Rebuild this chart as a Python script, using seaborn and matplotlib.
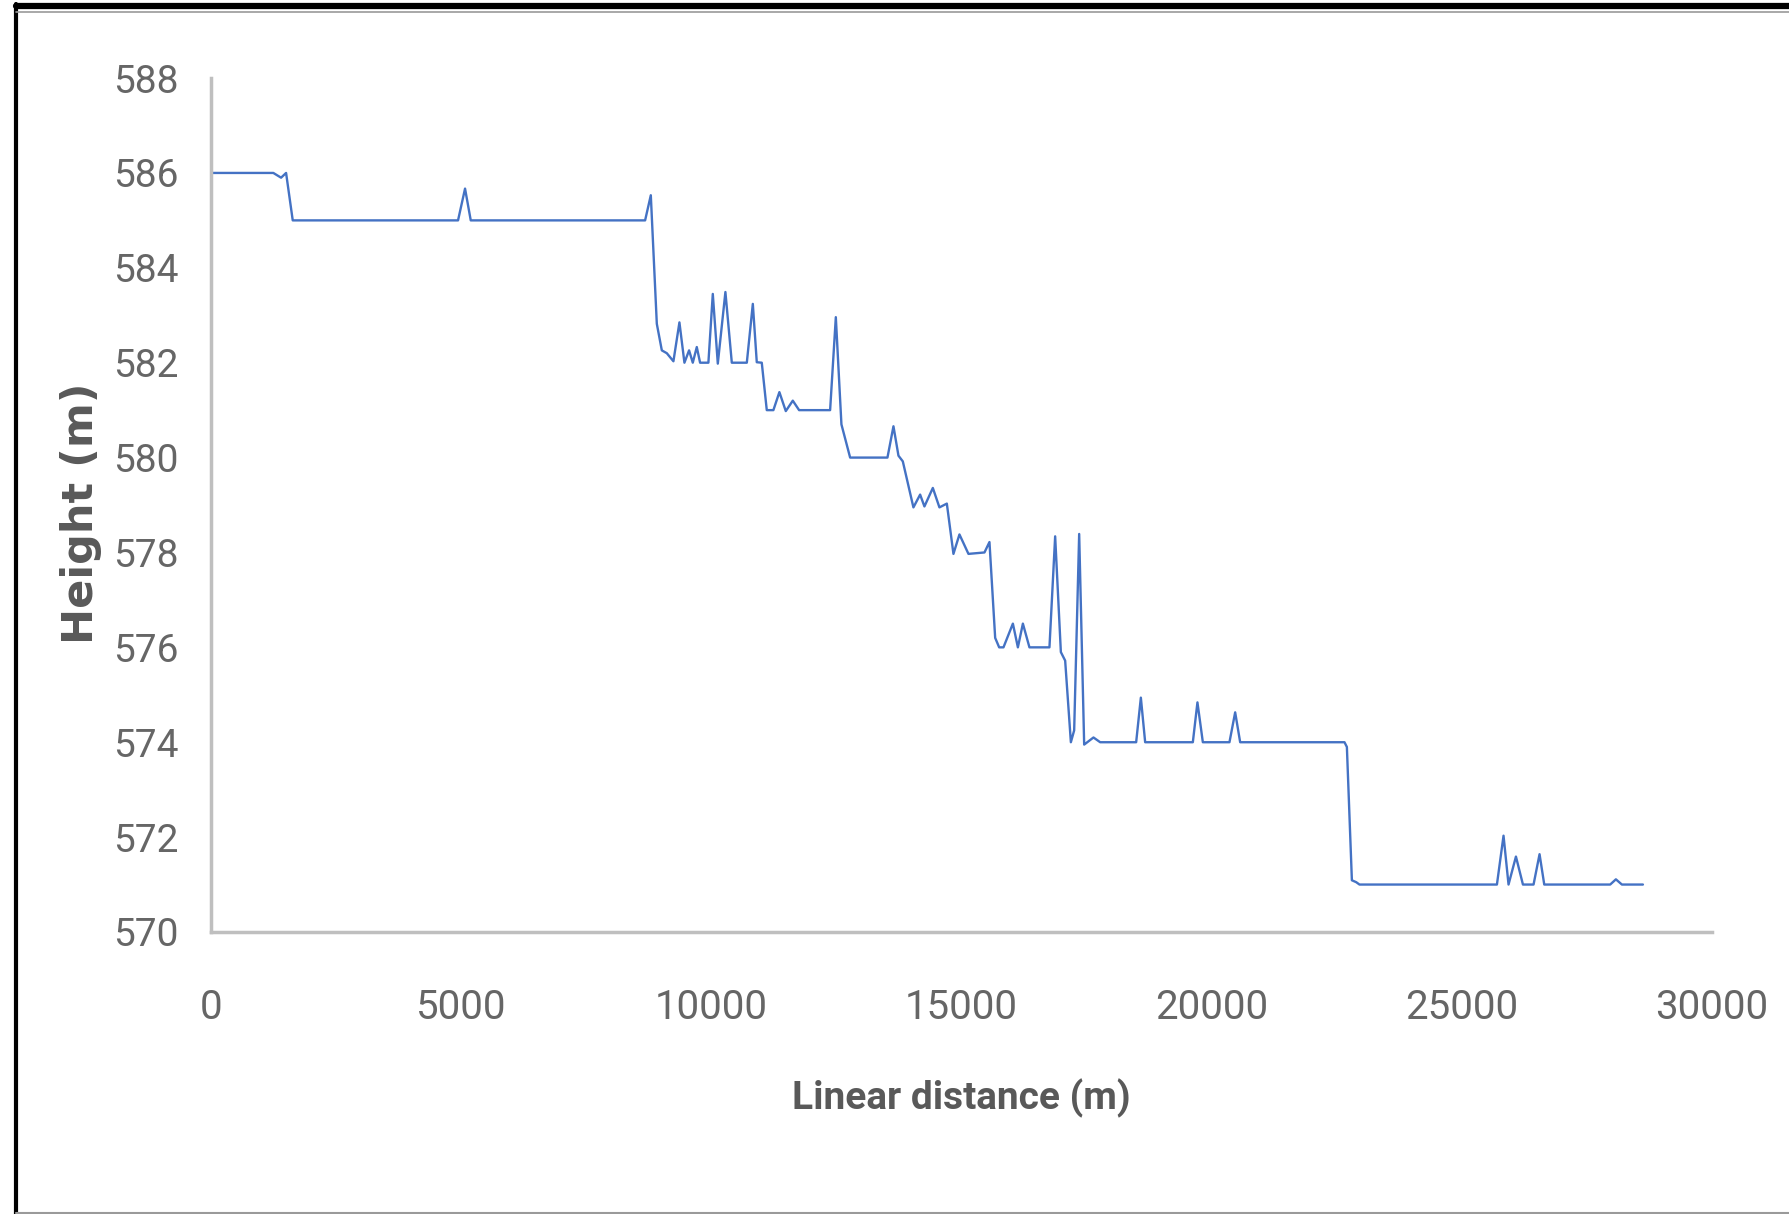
import pandas as pd
import matplotlib
matplotlib.use("Agg")
import matplotlib.pyplot as plt
import seaborn as sns

# Perfil longitudinal: distancia lineal (m) vs altura (m)
distancia = [
    0, 1245, 1400, 1500, 1633, 4937, 5077, 5191, 8676, 8790,
    8910, 9010, 9110, 9242, 9362, 9462, 9555, 9629, 9709, 9775,
    9941, 10029, 10129, 10281, 10409, 10709, 10829, 10908, 11008, 11108,
    11240, 11360, 11488, 11628, 11754, 12374, 12488, 12600, 12774, 13520,
    13640, 13740, 13827, 14039, 14173, 14259, 14427, 14559, 14707, 14839,
    14959, 15139, 15459, 15559, 15673, 15753, 15839, 16027, 16127, 16227,
    16358, 16758, 16872, 16986, 17072, 17186, 17252, 17352, 17452, 17638,
    17772, 18491, 18585, 18671, 19624, 19716, 19824, 20356, 20470, 20570,
    22655, 22703, 22803, 22889, 22955, 25702, 25834, 25934, 26082, 26222,
    26434, 26554, 26648, 27966, 28080, 28200, 28620,
]
altura = [
    586, 586, 585.9, 586, 585, 585, 585.67, 585, 585, 585.53,
    582.82, 582.26, 582.2, 582.03, 582.85, 582.0, 582.26, 582.0, 582.33, 582.0,
    582.0, 583.45, 581.98, 583.49, 582.0, 582.0, 583.24, 582.01, 582.0, 581.0,
    581.0, 581.38, 580.98, 581.2, 581.0, 581.0, 582.96, 580.7, 580.0, 580.0,
    580.66, 580.04, 579.92, 578.95, 579.22, 578.97, 579.36, 578.95, 579.03, 577.97,
    578.38, 577.97, 578.0, 578.22, 576.2, 576.0, 576.0, 576.5, 576.0, 576.5,
    576.0, 576.0, 578.34, 575.9, 575.72, 574.0, 574.25, 578.39, 573.95, 574.1,
    574.0, 574.0, 574.94, 574.0, 574.0, 574.84, 574.0, 574.0, 574.63, 574.0,
    574.0, 573.9, 571.09, 571.05, 571.0, 571.0, 572.03, 571.0, 571.59, 571.0,
    571.0, 571.64, 571.0, 571.0, 571.11, 571.0, 571.0,
]
x_ticks = [0, 5000, 10000, 15000, 20000, 25000, 30000]
y_ticks = [570, 572, 574, 576, 578, 580, 582, 584, 586, 588]

df = pd.DataFrame({"distancia": distancia, "altura": altura})

sns.set_theme(style="white")
plt.rcParams['font.family'] = ['Roboto', 'DejaVu Sans']

fig = plt.figure(figsize=(17.9, 12.14), dpi=100)
ax = fig.add_axes([0.1179, 0.2323, 0.8385, 0.7034])

sns.lineplot(data=df, x="distancia", y="altura", ax=ax, color="#4472C4",
             linewidth=1.7, estimator=None, sort=False,
             solid_joinstyle="round", solid_capstyle="round")

ax.set_xlim(0, 30000)
ax.set_ylim(570, 588)
ax.set_xticks(x_ticks)
ax.set_yticks(y_ticks)
ax.tick_params(axis="x", length=0, pad=40, labelsize=29, labelcolor="#666666")
ax.tick_params(axis="y", length=0, pad=23, labelsize=28, labelcolor="#666666")

ax.set_xlabel("Linear distance (m)", fontsize=28, fontweight="bold",
              color="#595959", va="top")
ax.xaxis.set_label_coords(0.5, -0.172)
ax.set_ylabel("Height (m)", fontsize=31, fontweight="bold", color="#595959",
              family="DejaVu Sans", va="bottom")
ax.yaxis.set_label_coords(-0.0725, 0.49)

for lado in ["top", "right"]:
    ax.spines[lado].set_visible(False)
for lado in ["left", "bottom"]:
    ax.spines[lado].set_color("#BFBFBF")
    ax.spines[lado].set_linewidth(2.5)

# Marco de la imagen original (borde negro arriba/izquierda, gris abajo)
fig.add_artist(plt.Line2D([0.0089, 1.0], [0.9947, 0.9947], color="black", lw=4.5,
                          transform=fig.transFigure))
fig.add_artist(plt.Line2D([0.0089, 0.0089], [0.0, 0.9965], color="black", lw=3.0,
                          transform=fig.transFigure))
fig.add_artist(plt.Line2D([0.0089, 1.0], [0.9905, 0.9905], color="#9a9a9a", lw=1.2,
                          transform=fig.transFigure))
fig.add_artist(plt.Line2D([0.0089, 1.0], [0.0012, 0.0012], color="#9a9a9a", lw=1.5,
                          transform=fig.transFigure))

fig.savefig("out.png", dpi=100, facecolor="white")
